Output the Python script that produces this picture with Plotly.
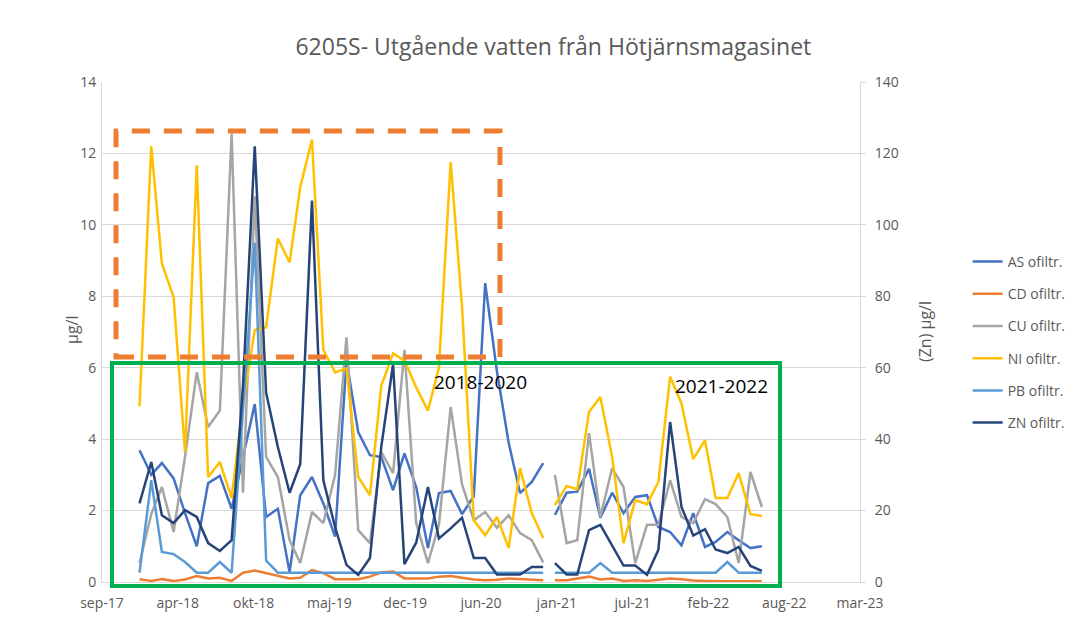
import pandas as pd
import plotly.graph_objects as go

# ---------------- data ----------------
dates_2018_2020 = pd.date_range("2018-01-01", "2020-12-01", freq="MS")
dates_2021_2022 = pd.date_range("2021-01-01", "2022-07-01", freq="MS")
break_date = pd.Timestamp("2020-12-16")

AS_1 = [3.69, 3.0, 3.33, 2.9, 1.93, 1.0, 2.77, 2.97, 2.05, 3.5, 4.98, 1.82, 2.05, 0.27, 2.43, 2.94, 2.2, 1.27,
        6.2, 4.2, 3.55, 3.5, 2.57, 3.6, 2.66, 0.95, 2.49, 2.55, 1.9, 2.4, 8.37, 5.9, 3.9, 2.49, 2.8, 3.33]
AS_2 = [1.88, 2.5, 2.53, 3.17, 1.8, 2.5, 1.93, 2.38, 2.43, 1.54, 1.4, 1.03, 1.93, 0.98, 1.12, 1.4, 1.17, 0.95, 1.0]

CD_1 = [0.08, 0.03, 0.08, 0.03, 0.07, 0.17, 0.1, 0.12, 0.03, 0.26, 0.32, 0.25, 0.17, 0.1, 0.12, 0.33, 0.25, 0.08,
        0.08, 0.08, 0.15, 0.27, 0.29, 0.1, 0.1, 0.1, 0.15, 0.17, 0.12, 0.07, 0.05, 0.06, 0.1, 0.09, 0.07, 0.05]
CD_2 = [0.05, 0.05, 0.1, 0.15, 0.07, 0.1, 0.03, 0.05, 0.03, 0.06, 0.1, 0.08, 0.04, 0.03, 0.02, 0.02, 0.02, 0.02, 0.02]

CU_1 = [0.53, 1.9, 2.66, 1.4, 3.5, 5.87, 4.34, 4.8, 12.56, 2.5, 10.8, 3.5, 2.94, 1.17, 0.53, 1.96, 1.65, 3.0,
        6.85, 1.45, 1.09, 3.64, 3.05, 6.5, 1.65, 0.53, 1.6, 4.9, 2.73, 1.73, 1.96, 1.52, 1.87, 1.37, 1.17, 0.55]
CU_2 = [3.0, 1.09, 1.17, 4.17, 1.82, 3.19, 2.66, 0.53, 1.6, 1.6, 2.85, 1.82, 1.65, 2.32, 2.18, 1.82, 0.53, 3.08, 2.1]

NI_1 = [4.92, 12.2, 8.92, 7.97, 3.64, 11.67, 2.94, 3.36, 2.35, 5.0, 7.05, 7.13, 9.62, 8.95, 11.05, 12.39, 6.5, 5.87,
        5.98, 2.94, 2.43, 5.5, 6.4, 6.2, 5.45, 4.8, 6.0, 11.76, 7.7, 1.73, 1.31, 1.82, 0.95, 3.19, 1.93, 1.23]
NI_2 = [2.15, 2.69, 2.6, 4.76, 5.18, 3.5, 1.09, 2.29, 2.18, 2.8, 5.75, 5.0, 3.44, 3.97, 2.35, 2.35, 3.05, 1.9, 1.85]

PB_1 = [0.26, 2.85, 0.84, 0.78, 0.56, 0.26, 0.26, 0.56, 0.26, 4.8, 9.5, 0.6, 0.26, 0.26, 0.26, 0.26, 0.26, 0.26,
        0.26, 0.26, 0.26, 0.26, 0.26, 0.26, 0.26, 0.26, 0.26, 0.26, 0.26, 0.26, 0.26, 0.26, 0.26, 0.26, 0.26, 0.26]
PB_2 = [0.26, 0.26, 0.26, 0.26, 0.53, 0.26, 0.26, 0.26, 0.26, 0.26, 0.26, 0.26, 0.26, 0.26, 0.26, 0.56, 0.26, 0.26, 0.26]

ZN_1 = [22, 33.6, 18.7, 16.5, 20.1, 18.2, 10.9, 8.7, 11.7, 55, 122, 53, 37.8, 25, 33, 106.8, 28.5, 15.4,
        4.8, 2.0, 6.7, 38, 61, 5, 11, 26.6, 12.2, 15, 18, 6.7, 6.7, 2.1, 2.1, 2.1, 4.2, 4.2]
ZN_2 = [5.3, 2.1, 2.1, 14.5, 16, 10, 4.6, 4.6, 2.0, 9.0, 44.8, 21, 13, 14.8, 9.1, 8.1, 9.8, 4.5, 3.1]

series_names = ["AS ofiltr.", "CD ofiltr.", "CU ofiltr.", "NI ofiltr.", "PB ofiltr.", "ZN ofiltr."]
series_colors = ["#4472C4", "#ED7D31", "#A5A5A5", "#FFC000", "#5B9BD5", "#264478"]

x_start = pd.Timestamp("2017-09-24")
tick_step_days = 200
tick_labels = ["sep-17", "apr-18", "okt-18", "maj-19", "dec-19", "jun-20",
               "jan-21", "jul-21", "feb-22", "aug-22", "mar-23"]

title_text = "6205S- Utgående vatten från Hötjärnsmagasinet"
y_title_left = "µg/l"
y_title_right = "(Zn) µg/l"
period_labels = ["2018-2020", "2021-2022"]

# ---------------- figure ----------------
x_all = list(dates_2018_2020) + [break_date] + list(dates_2021_2022)

def joined(a, b):
    return list(a) + [None] + list(b)

data_pairs = [(AS_1, AS_2), (CD_1, CD_2), (CU_1, CU_2), (NI_1, NI_2), (PB_1, PB_2), (ZN_1, ZN_2)]

FONT = "Open Sans"
GREY = "#595959"

fig = go.Figure()
for name, color, (s1, s2) in zip(series_names, series_colors, data_pairs):
    fig.add_trace(go.Scatter(
        x=x_all, y=joined(s1, s2), name=name, mode="lines",
        line=dict(color=color, width=2.5),
        connectgaps=False, legendgroup=name,
        yaxis="y2" if name.startswith("ZN") else "y",
    ))

tickvals = [x_start + pd.Timedelta(days=tick_step_days * k) for k in range(len(tick_labels))]
x_end = tickvals[-1]

fig.update_layout(
    width=1080, height=611,
    margin=dict(l=94, r=228, t=74, b=37),
    paper_bgcolor="white", plot_bgcolor="white",
    font=dict(family=FONT, color=GREY, size=14),
    title=dict(text=title_text, x=0.505, xanchor="center", y=0.937, yanchor="middle",
               font=dict(family=FONT, size=23, color=GREY)),
    xaxis=dict(type="date", range=[x_start, x_end], tickvals=tickvals, ticktext=tick_labels,
               showgrid=False, showline=True, linecolor="#D9D9D9", linewidth=1,
               ticks="", ticklabelstandoff=8, automargin=False,
               tickfont=dict(family=FONT, size=14, color=GREY), zeroline=False),
    yaxis=dict(range=[0, 14], dtick=2, showgrid=True, gridcolor="#D9D9D9", gridwidth=1,
               showline=True, linecolor="#D9D9D9", zeroline=False, ticks="", automargin=False,
               tickfont=dict(family=FONT, size=14, color=GREY), ticklabelstandoff=2),
    yaxis2=dict(range=[0, 140], dtick=20, overlaying="y", side="right", showgrid=False,
                showline=True, linecolor="#D9D9D9", zeroline=False, automargin=False,
                ticks="outside", ticklen=5, tickcolor="#D9D9D9",
                tickfont=dict(family=FONT, size=14, color=GREY), ticklabelstandoff=6),
    legend=dict(x=1.142, xanchor="left", y=0.672, yanchor="top", traceorder="grouped",
                tracegroupgap=11, font=dict(family=FONT, size=14, color=GREY),
                bgcolor="rgba(0,0,0,0)"),
    showlegend=True,
)

# axis titles
fig.add_annotation(text=y_title_left, xref="paper", yref="paper", x=-0.0396, y=0.504,
                   xanchor="center", yanchor="middle", textangle=-90, showarrow=False,
                   font=dict(family=FONT, size=16, color=GREY))
fig.add_annotation(text=y_title_right, xref="paper", yref="paper", x=1.0858, y=0.50,
                   xanchor="center", yanchor="middle", textangle=-90, showarrow=False,
                   font=dict(family=FONT, size=16, color=GREY))

# dashed orange frame (2018-2020 high values) and green frame
fig.add_shape(type="rect", xref="paper", yref="paper", x0=0.0185, x1=0.525, y0=0.45, y1=0.902,
              line=dict(color="#ED7D31", width=5, dash="18px,14px"), fillcolor="rgba(0,0,0,0)")
fig.add_shape(type="rect", xref="paper", yref="paper", x0=0.0132, x1=0.8945, y0=-0.008, y1=0.438,
              line=dict(color="#00B050", width=4), fillcolor="rgba(0,0,0,0)")

fig.add_annotation(text=period_labels[0], xref="paper", yref="paper", x=0.499, y=0.40,
                   xanchor="center", yanchor="middle",
                   showarrow=False, font=dict(family=FONT, size=19, color="black"))
fig.add_annotation(text=period_labels[1], xref="paper", yref="paper", x=0.817, y=0.392,
                   xanchor="center", yanchor="middle",
                   showarrow=False, font=dict(family=FONT, size=19, color="black"))

fig.write_html("out.html")
